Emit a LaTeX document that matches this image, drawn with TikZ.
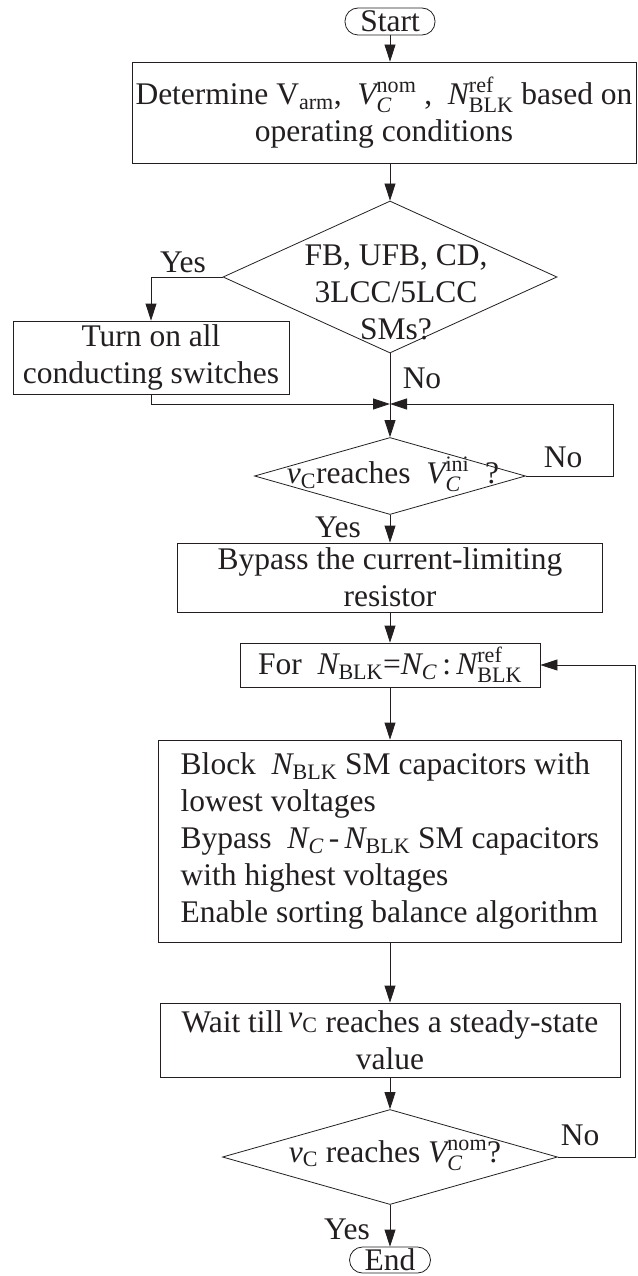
\RequirePackage{fix-cm}
\documentclass[tikz,border=0pt]{standalone}
\usepackage{amsmath}
\usepackage{fontspec}
\setmainfont{Liberation Serif}
\usepackage{tikz}
\usetikzlibrary{positioning, calc, arrows.meta, shapes.geometric}
\definecolor{ink}{HTML}{231F20}
\newcommand\iv[1]{\text{\itshape #1}}
\newcommand\Nblk{\iv{N}_{\text{BLK}}}

\begin{document}
\begin{tikzpicture}[x=1pt, y=-1pt, font=\fontsize{31.5}{37}\selectfont, ink,
  box/.style={draw=ink, line width=0.8pt, inner sep=0pt, align=center},
  decide/.style={draw=ink, line width=0.8pt, diamond, inner sep=0pt},
  term/.style={draw=ink, line width=0.8pt, rounded corners=13pt, inner sep=0pt},
  flow/.style={draw=ink, line width=0.8pt, -{Triangle[length=17pt, width=11pt]}},
  wire/.style={draw=ink, line width=0.8pt}]
  \useasboundingbox (0,0) rectangle (637,1276);
  % top of the chart
  \node[term, minimum width=90pt, minimum height=27pt] (start) at (390,21.5) {Start};
  \node[box, minimum width=504pt, minimum height=101pt] (init) at (384,112.5)
    {Determine V\textsubscript{arm}, \ $\iv{V}_{\iv{C}}^{\text{nom}}$ , \ $\Nblk^{\text{ref}}$ based on\\operating conditions};
  % first decision (SM type)
  \node[decide, minimum width=334pt, minimum height=152pt] (typ) at (390,277) {};
  \node[align=center] (typtxt) at (396,292) {FB, UFB, CD,\\3LCC/5LCC\\SMs?};
  \node (yes1) at (183,262) {Yes};
  \node[box, minimum width=276pt, minimum height=73pt] (turn) at (151,357.5) {Turn on all\\conducting switches};
  \node (no1) at (422,378) {No};
  \coordinate (mrg) at (390,404);
  % second decision (initial voltage)
  \node[decide, minimum width=271pt, minimum height=77pt] (ini) at (390,476) {};
  \node (initxt) at (393,474) {$\iv{v}_{\text{C}}$reaches \ $\iv{V}_{\iv{C}}^{\text{ini}}$ \ ?};
  \node (no2) at (563,457) {No};
  \coordinate (r1) at (613,404);
  \node (yes2) at (338,527) {Yes};
  % charging loop
  \node[box, minimum width=425pt, minimum height=69pt] (bypass) at (390,577.5) {Bypass the current-limiting\\resistor};
  \node[box, minimum width=300pt, minimum height=44pt] (loop) at (390,665)
    {For \ $\Nblk$=$\iv{N}_{\iv{C}}$\,:\,$\Nblk^{\text{ref}}$};
  \node[box, align=left, minimum width=463pt, minimum height=202pt] (sort) at (390,841)
    {Block \ $\Nblk$ SM capacitors with\\lowest voltages\\Bypass \ $\iv{N}_{\iv{C}}$\,-\,$\Nblk$ SM capacitors\\with highest voltages\\Enable sorting balance algorithm};
  \node[box, minimum width=460pt, minimum height=74pt] (wait) at (390,1040)
    {Wait till\,\raisebox{5pt}{$\iv{v}_{\text{C}}$} reaches a steady-state\\value};
  \node[decide, minimum width=335pt, minimum height=95pt] (nom) at (390,1157) {};
  \node (nomtxt) at (395,1155) {$\iv{v}_{\text{C}}$ reaches $\iv{V}_{\iv{C}}^{\text{nom}}$?};
  \node (no3) at (580,1135) {No};
  \coordinate (r2) at (635,665);
  \node (yes3) at (347,1229) {Yes};
  \node[term, minimum width=81pt, minimum height=26pt] (stop) at (390,1260) {End};
  % connectors
  \draw[flow] (start) -- (start |- init.north);
  \draw[flow] (init.south -| typ) -- (typ.north);
  \draw[flow] (typ.west) -| (turn.north);
  \draw[flow] (turn.south) |- (mrg);
  \draw[wire] (typ.south) -- (mrg);
  \draw[flow] (mrg) -- (ini.north);
  \draw[flow] (ini.east) -| (r1) -- (mrg);
  \draw[flow] (ini.south) -- (bypass.north);
  \draw[flow] (bypass.south) -- (loop.north);
  \draw[flow] (loop.south) -- (sort.north);
  \draw[flow] (sort.south) -- (wait.north);
  \draw[flow] (wait.south) -- (nom.north);
  \draw[flow] (nom.south) -- (stop.north);
  \draw[flow] (nom.east) -| (r2) -- (loop.east);
\end{tikzpicture}
\end{document}
